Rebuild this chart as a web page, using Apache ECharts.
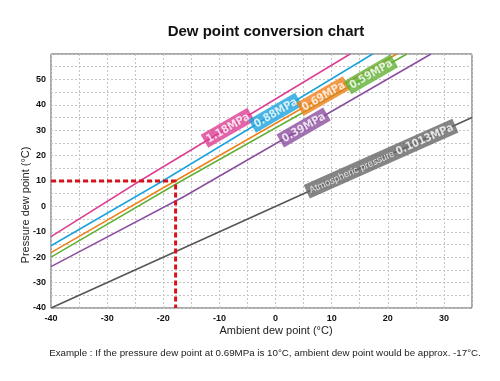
<!DOCTYPE html>
<html>
<head>
<meta charset="utf-8">
<script src="https://cdn.jsdelivr.net/npm/echarts@6/dist/echarts.min.js"></script>
<style>html,body{margin:0;padding:0;background:#fff}#c{width:500px;height:381px}</style>
</head>
<body>
<div id="c"></div>
<script>
// ---- data ----
const title = 'Dew point conversion chart';
const xName = 'Ambient dew point (°C)';
const yName = 'Pressure dew point (°C)';
const note = 'Example : If the pressure dew point at 0.69MPa is 10°C, ambient dew point would be approx. -17°C.';

const line118 = [[-40, -11.9], [-24.2, 10], [13.3, 60]];
const line088 = [[-40, -15.5], [-20.1, 10], [17.3, 60]];
const line069 = [[-40, -18.2], [-17.9, 10], [21.6, 60]];
const line059 = [[-40, -20.0], [-16.8, 10], [23.4, 60]];
const line039 = [[-40, -23.7], [-16.2, 4], [27.7, 60]];
const lineAtm = [[-40, -40], [35, 35]];
const exampleGuide = [[-40, 10], [-17.8, 10], [-17.8, -40]];

const seriesNames = ['1.18MPa', '0.88MPa', '0.69MPa', '0.59MPa', '0.39MPa', 'Atmospheric pressure'];
const seriesData = [line118, line088, line069, line059, line039, lineAtm];
const seriesColors = ['#dc3f93', '#1ba3dd', '#ef8119', '#62b035', '#8b4e9f', '#555555'];
const labelX = [-8.5, 0, 8.5, 17, 5, 18.8];
const atmValue = '0.1013MPa';

function yAt(line, x) {
  for (let i = 0; i < line.length - 1; i++) {
    const a = line[i], b = line[i + 1];
    if (x >= a[0] && x <= b[0]) return a[1] + (b[1] - a[1]) * (x - a[0]) / (b[0] - a[0]);
  }
  return line[line.length - 1][1];
}

const narrow = "'Liberation Sans Narrow', 'DejaVu Sans Condensed', sans-serif";
const chart = echarts.init(document.getElementById('c'), null, {renderer: 'canvas'});
const series = [];
seriesData.forEach((d, i) => {
  series.push({
    type: 'line', name: seriesNames[i], data: d, symbol: 'none', z: 3,
    lineStyle: {color: seriesColors[i], width: 1.5}, animation: false
  });
});
series.push({
  type: 'line', name: 'example', data: exampleGuide, symbol: 'none', z: 5,
  lineStyle: {color: '#d4141c', width: 3, type: [5, 3]}, animation: false
});
// labels
seriesData.forEach((d, i) => {
  const isAtm = i === 5;
  series.push({
    type: 'scatter', symbolSize: 0, z: 6, animation: false, silent: true,
    data: [[labelX[i], yAt(d, labelX[i])]],
    label: {
      show: true, position: 'inside', rotate: isAtm ? 24 : 30,
      formatter: isAtm ? '{a|Atmospheric pressure }{b|' + atmValue + '}' : seriesNames[i],
      color: '#fff', backgroundColor: isAtm ? '#666666' : seriesColors[i],
      fontFamily: narrow,
      fontWeight: 'bold', fontSize: 11, padding: [2, 3, 1, 3], lineHeight: 12,
      rich: {
        a: {fontFamily: "'Liberation Sans', Arial, sans-serif", fontSize: 9.5, color: '#fff', fontWeight: 'normal'},
        b: {fontFamily: narrow, fontSize: 11, color: '#fff', fontWeight: 'bold'}
      }
    }
  });
});

const grayDash = {show: true, lineStyle: {color: '#c4c4c4', type: [2, 2], width: 1}};
chart.setOption({
  animation: false,
  title: {
    text: title, left: 261, top: 19, textAlign: 'center',
    textStyle: {fontFamily: "'Liberation Sans', Arial, sans-serif", fontSize: 15, fontWeight: 'bold', color: '#111'}
  },
  grid: {left: 51, top: 54, right: 28, bottom: 73, show: true, borderColor: '#555', borderWidth: 1, backgroundColor: 'transparent'},
  xAxis: {
    type: 'value', min: -40, max: 35, interval: 5,
    axisLine: {show: false}, axisTick: {show: false}, splitLine: grayDash,
    axisLabel: {
      formatter: v => (v % 10 === 0 ? String(v) : ''), color: '#111', fontSize: 9, fontWeight: 'bold',
      fontFamily: "'Liberation Sans', Arial, sans-serif", margin: 6, showMaxLabel: false
    }
  },
  yAxis: {
    type: 'value', min: -40, max: 60, interval: 5,
    axisLine: {show: false}, axisTick: {show: false}, splitLine: grayDash,
    axisLabel: {
      formatter: v => (v % 10 === 0 && v < 60 ? String(v) : ''), color: '#111', fontSize: 9, fontWeight: 'bold',
      fontFamily: "'Liberation Sans', Arial, sans-serif", margin: 5
    }
  },
  graphic: [
    {type: 'text', x: 276, y: 331, style: {text: xName, fill: '#222', font: "11px 'Liberation Sans', Arial, sans-serif", textAlign: 'center', textVerticalAlign: 'middle'}},
    {type: 'text', x: 26, y: 205, rotation: Math.PI / 2, style: {text: yName, fill: '#222', font: "11px 'Liberation Sans', Arial, sans-serif", textAlign: 'center', textVerticalAlign: 'middle'}},
    {type: 'text', x: 265, y: 353, style: {text: note, fill: '#222', font: "9.75px 'Liberation Sans', Arial, sans-serif", textAlign: 'center', textVerticalAlign: 'middle'}}
  ],
  series: series
});
</script>
</body>
</html>
